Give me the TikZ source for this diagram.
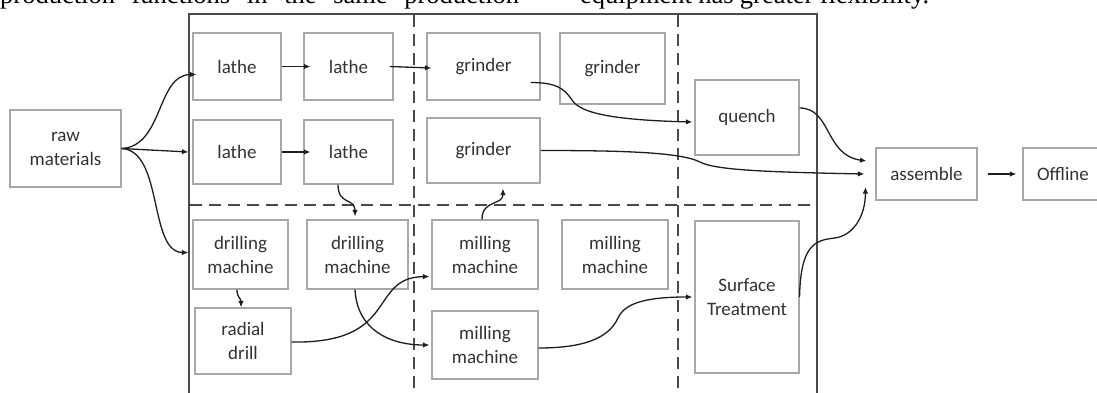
\documentclass[tikz,border=0pt]{standalone}
\usepackage{fontspec}
\setmainfont{Carlito}
\newfontfamily\capfont{Liberation Serif}
\usetikzlibrary{arrows.meta}
\definecolor{framec}{HTML}{4A4A4A}
\definecolor{boxc}{HTML}{A8A8A8}
\definecolor{txtc}{HTML}{333333}
\definecolor{arrc}{HTML}{1E1E1E}
\tikzset{
  box/.style={draw=boxc, line width=1.1pt, fill=white, text=txtc, align=center,
    inner sep=0pt, font=\fontsize{19}{24}\selectfont},
  sz/.style 2 args={minimum width=#1pt, minimum height=#2pt},
  frameline/.style={draw=framec, line width=2pt},
  dashline/.style={draw=framec, line width=2pt, dash pattern=on 12pt off 7pt},
  conn/.style={draw=arrc, line width=1.3pt, -{Latex[length=6.5pt,width=5.5pt]}},
  captext/.style={anchor=base west, inner sep=0pt, font=\capfont\fontsize{26.5}{26.5}\selectfont},
}
\begin{document}
\begin{tikzpicture}[x=1pt,y=-1pt]
\useasboundingbox (0,0) rectangle (1097,392);
% cropped caption text above the figure
\node[captext] (capA) at (0,3)
  {\hbox to 519pt{production\hfill functions\hfill in\hfill the\hfill same\hfill production}};
\node[captext] (capB) at (580,3)
  {\hbox to 349pt{equipment\hfill has\hfill greater\hfill flexibility.}};
% frame
\draw[frameline] (188,14) -- (818,14);
\draw[frameline] (189,14) -- (189,396);
\draw[frameline] (817,14) -- (817,396);
\draw[dashline] (414,15) -- (414,396);
\draw[dashline] (678,15) -- (678,396);
\draw[dashline] (190,205) -- (816,205);
% nodes
\node[box, sz={111}{77}] (raw) at (65.5,148.5) {raw\\materials};
\node[box, sz={88}{67}] (lathe1) at (237,66.5) {lathe};
\node[box, sz={89}{67}] (lathe2) at (348.5,66.5) {lathe};
\node[box, sz={88}{64}] (lathe3) at (237,152) {lathe};
\node[box, sz={89}{64}] (lathe4) at (348.5,152) {lathe};
\node[box, sz={113}{67}] (grinder1) at (483.5,66.5) {grinder};
\node[box, sz={105}{71}] (grinder2) at (612.5,68.5) {grinder};
\node[box, sz={113}{65}] (grinder3) at (483.5,150.5) {grinder};
\node[box, sz={104}{75}] (quench) at (747,117.5) {quench};
\node[box, sz={95}{69}] (drill1) at (240.5,254.5) {drilling\\machine};
\node[box, sz={101}{69}] (drill2) at (357.5,254.5) {drilling\\machine};
\node[box, sz={96}{66}] (radial) at (243,341) {radial\\drill};
\node[box, sz={106}{69}] (mill1) at (485,254.5) {milling\\machine};
\node[box, sz={106}{69}] (mill2) at (615,254.5) {milling\\machine};
\node[box, sz={106}{68}] (mill3) at (485,345) {milling\\machine};
\node[box, sz={104}{152}] (surface) at (747,297) {Surface\\Treatment};
\node[box, sz={101}{52}] (assemble) at (926.5,174) {assemble};
\node[box, sz={80}{52}] (offline) at (1063,174) {Offline};
% connectors
\draw[conn] (raw.east) .. controls +(42,-2) and +(-40,0) .. ([xshift=4pt,yshift=-8pt]lathe1.west);
\draw[conn] (raw.east) -- ([xshift=-4pt]lathe3.west);
\draw[conn] (raw.east) .. controls +(42,2) and +(-40,0) .. ([xshift=-4pt,yshift=2pt]drill1.west);
\draw[conn] (lathe1.east) -- ([xshift=7pt]lathe2.west);
\draw[conn] ([xshift=-4pt]lathe2.east) -- ([xshift=5pt,yshift=-1.5pt]grinder1.west);
\draw[conn] (lathe3.east) -- ([xshift=7pt]lathe4.west);
\draw[conn] ([xshift=-10.5pt]lathe4.south) .. controls +(0,21) and +(0,-19) .. ([xshift=-2.5pt,yshift=3pt]drill2.north);
\draw[conn] ([xshift=-3.5pt]drill1.south) .. controls +(0,9) and +(0,-10) .. ([xshift=-2pt]radial.north);
\draw[conn] ([yshift=-1pt]radial.east) .. controls +(109,2) and +(-62,1) .. ([xshift=-2pt,yshift=-22pt]mill1.west);
\draw[conn] ([xshift=-2.5pt]drill2.south) .. controls +(2,40) and +(-40,0) .. ([xshift=-2pt]mill3.west);
\draw[conn] ([xshift=-3pt]mill1.north) .. controls +(0,-20) and +(0,17) .. ([xshift=19.5pt,yshift=-5pt]grinder3.south);
\draw[conn] ([xshift=-10pt,yshift=-16pt]grinder1.east) .. controls +(25,0) and +(-8,-12) .. (572,100)
  .. controls +(8,13) and +(-80,-2) .. ([xshift=-2pt,yshift=-4.5pt]quench.west);
\draw[conn] (grinder3.east) .. controls +(80,0) and +(-20,-10) .. (700,162)
  .. controls +(15,8) and +(-100,-2) .. ([xshift=-11pt]assemble.west);
\draw[conn] ([yshift=9.5pt]quench.east) .. controls +(32,0) and +(-42,-6) .. ([xshift=-9pt,yshift=13pt]assemble.west);
\draw[conn] (surface.east) .. controls +(1,-52) and +(-20,2) .. (835,238)
  .. controls +(20,-3) and +(0,27) .. ([xshift=-10pt,yshift=-13pt]assemble.west);
\draw[conn] ([yshift=-3pt]mill3.east) .. controls +(52,0) and +(-8,17) .. (618,318)
  .. controls +(7,-16) and +(-43,0) .. ([xshift=-2pt]surface.west);
\draw[conn] ([xshift=10pt]assemble.east) -- ([xshift=-6pt]offline.west);
\end{tikzpicture}
\end{document}
